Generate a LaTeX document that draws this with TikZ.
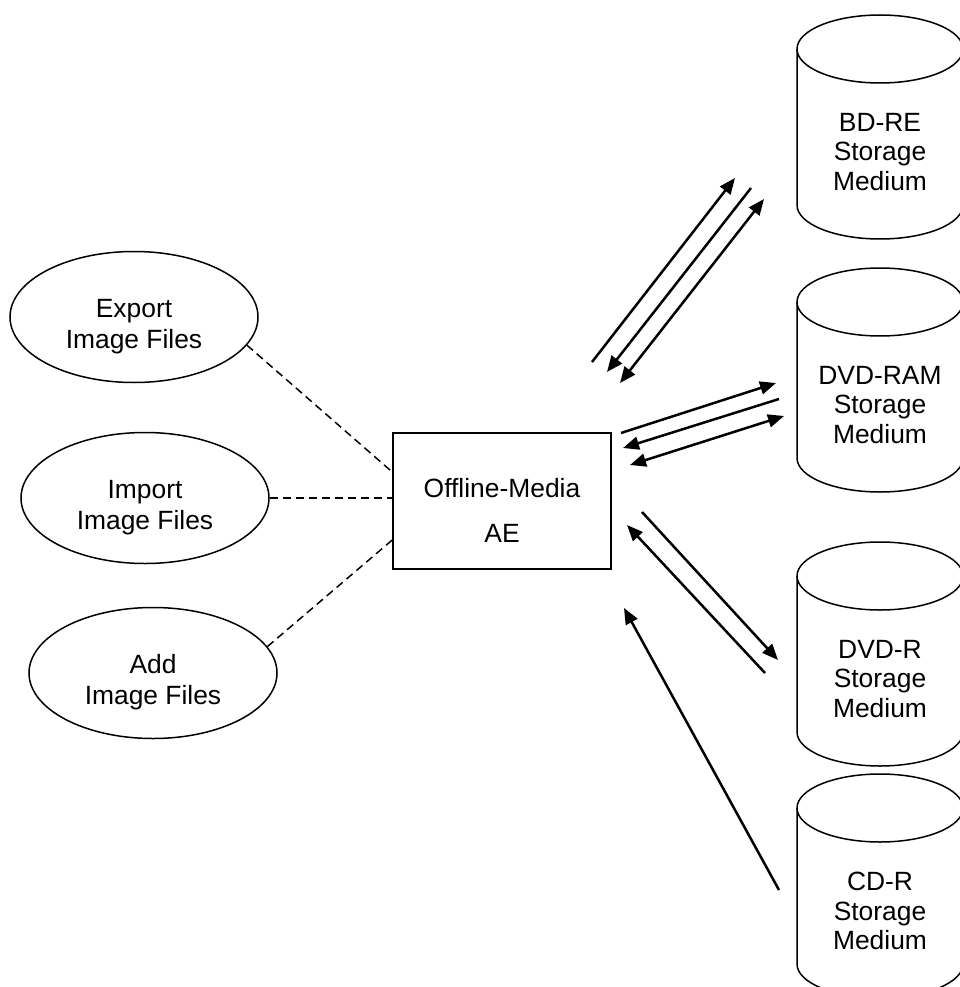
\documentclass[tikz,border=0pt]{standalone}
\usepackage{fontspec}
\setmainfont{Liberation Sans}
\usetikzlibrary{arrows.meta, shapes.geometric}

\newcommand{\txtgap}{\rule{0pt}{37pt}}

\begin{document}
\begin{tikzpicture}[x=1pt,y=-1pt,>={Triangle[length=16pt,width=13pt]},
    font=\fontsize{26.4}{31}\selectfont]
	\tikzstyle{usecase}=[draw, ellipse, line width=1.5pt, minimum width=248pt, minimum height=131pt, inner sep=0pt, align=center]
	\tikzstyle{entity}=[draw, line width=1.5pt, minimum width=218pt, minimum height=136pt, align=center]
	\tikzstyle{medium}=[align=center, font=\fontsize{26.4}{29.5}\selectfont]
	\tikzstyle{assoc}=[line width=1.5pt, dash pattern=on 8pt off 5pt]
	\tikzstyle{flow}=[line width=2.5pt]

    \useasboundingbox (0,0) rectangle (960,987);

    \node [usecase] (export) at (134,317) {\txtgap Export\\Image Files};
    \node [usecase] (import) at (145,498) {\txtgap Import\\Image Files};
    \node [usecase] (add) at (153,673) {\txtgap Add\\Image Files};
    \node [entity] (ae) at (502,501) {\txtgap Offline-Media\\[14pt]AE};

    % storage media
    \foreach \n/\ty/\txt in {bdre/15/BD-RE, dvdram/268/DVD-RAM, dvdr/542/DVD-R, cdr/774/CD-R}{
        \draw [line width=1.5pt] (797,\ty+34) -- (797,\ty+190)
            arc [start angle=180, end angle=360, x radius=83pt, y radius=34pt] -- (963,\ty+34);
        \draw [line width=1.5pt] (880,\ty+34) ellipse [x radius=83pt, y radius=34pt];
        \node [medium] (\n) at (880,\ty+137) {\txt\\Storage\\Medium};
    }

    \draw [assoc] (export.-14) -- ([yshift=29pt]ae.west);
    \draw [assoc] (import.east) -- (import.east -| ae.west);
    \draw [assoc] (add.13) -- ([yshift=-39pt]ae.west);

    \coordinate (bd1) at (592,362); \coordinate (bd2) at (735,178);
    \coordinate (bd3) at (751,188); \coordinate (bd4) at (607,372);
    \coordinate (bd5) at (620,383); \coordinate (bd6) at (764,199);
    \coordinate (ram1) at (621,433); \coordinate (ram2) at (776,383);
    \coordinate (ram3) at (779,399); \coordinate (ram4) at (623,448);
    \coordinate (ram5) at (630,465); \coordinate (ram6) at (784,416);
    \coordinate (dvd1) at (642,512); \coordinate (dvd2) at (778,660);
    \coordinate (dvd3) at (765,673); \coordinate (dvd4) at (627,525);
    \coordinate (cd1) at (779,890); \coordinate (cd2) at (624,608);

    \draw [flow,->] (bd1) -- (bd2);
    \draw [flow,->] (bd3) -- (bd4);
    \draw [flow,<->] (bd5) -- (bd6);
    \draw [flow,->] (ram1) -- (ram2);
    \draw [flow,->] (ram3) -- (ram4);
    \draw [flow,<->] (ram5) -- (ram6);
    \draw [flow,->] (dvd1) -- (dvd2);
    \draw [flow,->] (dvd3) -- (dvd4);
    \draw [flow,->] (cd1) -- (cd2);
\end{tikzpicture}
\end{document}
